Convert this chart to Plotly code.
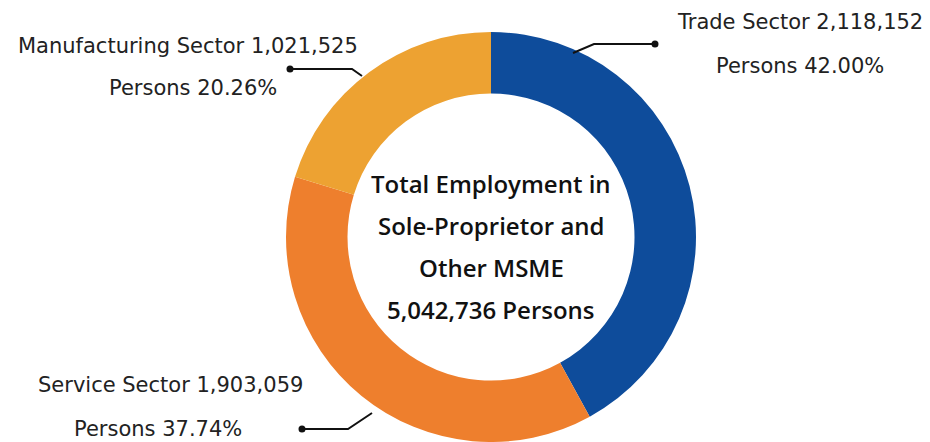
import plotly.graph_objects as go

# Data
sectors = ["Trade Sector", "Service Sector", "Manufacturing Sector"]
employees = [2118152, 1903059, 1021525]
shares = ["42.00%", "37.74%", "20.26%"]
colors = ["#0E4C9B", "#EE7F2D", "#EDA232"]
total = 5042736
center_lines = ["Total Employment in", "Sole-Proprietor and", "Other MSME",
                "{:,} Persons".format(total)]

W, H = 930, 442
cx, cy, R = 491, 237, 205  # pixel centre (from top) and radius

fig = go.Figure(go.Pie(
    labels=sectors, values=employees, sort=False, direction="clockwise",
    rotation=0, hole=0.70, textinfo="none", showlegend=False,
    marker=dict(colors=colors, line=dict(width=0)),
    domain=dict(x=[(cx - R) / W, (cx + R) / W],
                y=[(H - cy - R) / H, (H - cy + R) / H]),
))

font_lbl = dict(family="DejaVu Sans", size=21, color="#222222")
font_ctr = dict(family="Open Sans", size=24, color="#111111", weight=600)

def px(x, y):
    return x / W, 1 - y / H

ann = []
# label text positions (centre x, centre y) in pixels
lbl_pos = {
    "Trade Sector": [(800, 22), (800, 66)],
    "Service Sector": [(170, 385), (158, 429)],
    "Manufacturing Sector": [(188, 46), (193, 88)],
}
for s, v, p in zip(sectors, employees, shares):
    (x1, y1), (x2, y2) = lbl_pos[s]
    for (xx, yy), t in [((x1, y1), "{} {:,}".format(s, v)), ((x2, y2), "Persons " + p)]:
        ax, ay = px(xx, yy)
        ann.append(dict(x=ax, y=ay, xref="paper", yref="paper", text=t,
                        showarrow=False, font=font_lbl, xanchor="center", yanchor="middle"))

for t, yy in zip(center_lines, [183, 225, 267, 309]):
    ax, ay = px(cx, yy)
    ann.append(dict(x=ax, y=ay, xref="paper", yref="paper", text=t, showarrow=False,
                    font=font_ctr, xanchor="center", yanchor="middle"))

# leader lines (pixel paths)
leaders = [
    [(655, 44), (594, 44), (573, 53)],
    [(290, 69), (352, 69), (362, 76)],
    [(302, 429), (348, 429), (372, 413)],
]
shapes = []
for pts in leaders:
    path = "M " + " L ".join("{},{}".format(*px(x, y)) for x, y in pts)
    shapes.append(dict(type="path", xref="paper", yref="paper", path=path,
                       line=dict(color="#111111", width=2)))
    dx, dy = px(*pts[0])
    shapes.append(dict(type="circle", xref="paper", yref="paper",
                       x0=dx - 3.5 / W, x1=dx + 3.5 / W, y0=dy - 3.5 / H, y1=dy + 3.5 / H,
                       fillcolor="#111111", line=dict(width=0)))

fig.update_layout(width=W, height=H, margin=dict(l=0, r=0, t=0, b=0),
                  paper_bgcolor="white", plot_bgcolor="white",
                  annotations=ann, shapes=shapes)
fig.write_html("out.html")
